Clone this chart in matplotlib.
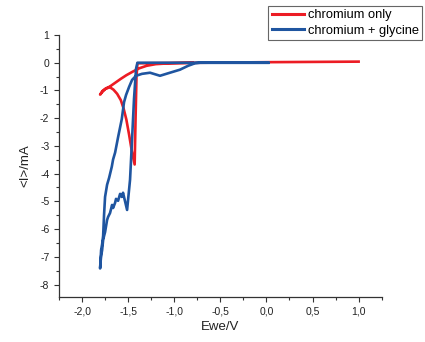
import matplotlib
matplotlib.use('Agg')
import matplotlib.pyplot as plt
from matplotlib.ticker import MultipleLocator, FuncFormatter

plt.rcParams['font.family'] = ['Liberation Sans', 'DejaVu Sans']
plt.rcParams['axes.unicode_minus'] = False

# chromium only (red)
cr_x = [1.0, 0.5, 0.0, -0.7, -1.40, -1.41, -1.42, -1.43, -1.46, -1.49, -1.52, -1.55,
        -1.58, -1.62, -1.66, -1.70, -1.75, -1.78, -1.805, -1.78, -1.74, -1.70,
        -1.64, -1.58, -1.52, -1.45, -1.38, -1.30, -1.2, -1.05, -0.8]
cr_y = [0.04, 0.03, 0.02, 0.0, -0.02, -0.5, -2.0, -3.67, -3.2, -2.6, -2.05, -1.65,
        -1.35, -1.12, -0.97, -0.88, -0.95, -1.05, -1.15, -1.02, -0.92, -0.86,
        -0.72, -0.58, -0.45, -0.32, -0.2, -0.11, -0.05, -0.02, 0.0]

# chromium + glycine (blue)
gly_x = [0.02, -1.40, -1.415, -1.437, -1.458, -1.48, -1.512, -1.556, -1.570, -1.588,
         -1.61, -1.632, -1.642, -1.664, -1.675, -1.697, -1.718, -1.729, -1.751,
         -1.762, -1.772, -1.783, -1.794, -1.80, -1.805,
         -1.80, -1.794, -1.783, -1.772, -1.762, -1.751, -1.729, -1.707, -1.678,
         -1.664, -1.642, -1.61, -1.57, -1.545, -1.523, -1.49, -1.458, -1.415,
         -1.35, -1.263, -1.155, -1.047, -0.938, -0.85, -0.776, -0.72, 0.02]
gly_y = [0.0, 0.0, -0.22, -1.31, -2.76, -4.22, -5.31, -4.69, -4.84, -4.73,
         -4.98, -4.91, -5.05, -5.24, -5.13, -5.42, -5.56, -5.67, -6.11,
         -6.25, -6.4, -6.76, -6.98, -7.2, -7.42,
         -7.13, -6.76, -6.55, -6.25, -5.49, -4.84, -4.4, -4.15, -3.75,
         -3.49, -3.24, -2.69, -2.04, -1.42, -1.16, -0.87, -0.62, -0.47,
         -0.4, -0.36, -0.47, -0.36, -0.25, -0.11, -0.02, 0.0, 0.0]

fig = plt.figure(figsize=(4.25, 3.42), dpi=100)
ax = fig.add_axes([0.139, 0.1316, 0.759, 0.766])

l1, = ax.plot(cr_x, cr_y, color='#ec1c24', lw=1.9, solid_joinstyle='round')
l2, = ax.plot(gly_x, gly_y, color='#1f55a0', lw=1.9, solid_joinstyle='round')

ax.set_xlim(-2.25, 1.25)
ax.set_ylim(-8.45, 1.0)
ax.xaxis.set_major_locator(MultipleLocator(0.5))
ax.xaxis.set_minor_locator(MultipleLocator(0.25))
ax.yaxis.set_major_locator(MultipleLocator(1))
ax.yaxis.set_minor_locator(MultipleLocator(0.5))
ax.xaxis.set_major_formatter(FuncFormatter(lambda v, p: ('%.1f' % v).replace('.', ',')))
ax.yaxis.set_major_formatter(FuncFormatter(lambda v, p: '%d' % round(v)))

for s in ['top', 'right']:
    ax.spines[s].set_visible(False)
for s in ['left', 'bottom']:
    ax.spines[s].set_color('#333333')
    ax.spines[s].set_linewidth(0.9)
ax.tick_params(which='major', direction='out', length=3.5, width=0.8, labelsize=7.5,
               colors='#333333', labelcolor='#222222')
ax.tick_params(which='minor', direction='out', length=2, width=0.8, colors='#333333')

ax.set_xlabel('Ewe/V', fontsize=9.5, color='#222222', labelpad=3)
ax.set_ylabel('<I>/mA', fontsize=9.5, color='#222222', labelpad=6)

leg = fig.legend([l1, l2], ['chromium only', 'chromium + glycine'], loc='upper right',
                 bbox_to_anchor=(422 / 425, 1 - 6 / 342), bbox_transform=fig.transFigure,
                 fontsize=9.3, handlelength=2.5, handletextpad=0.3, borderpad=0.25,
                 labelspacing=0.25, borderaxespad=0, fancybox=False, framealpha=1)
leg.get_frame().set_edgecolor('#666666')
leg.get_frame().set_linewidth(0.8)
for h in leg.get_lines():
    h.set_linewidth(2.2)

fig.savefig('out.png', dpi=100)
